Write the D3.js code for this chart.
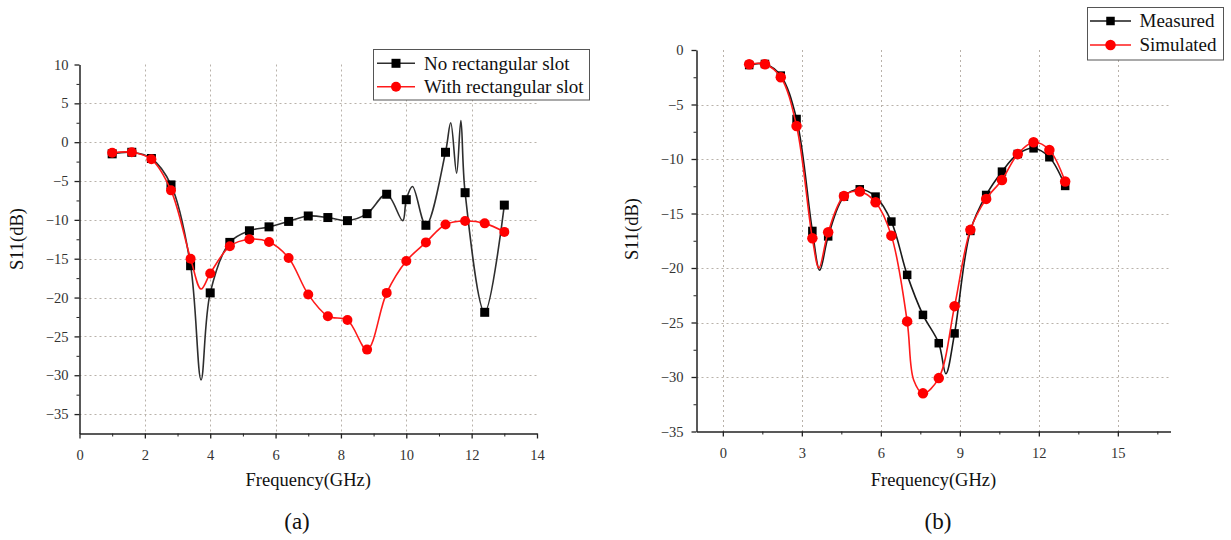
<!DOCTYPE html>
<html>
<head>
<meta charset="utf-8">
<script src="https://cdn.jsdelivr.net/npm/d3@7"></script>
<style>
  html, body { margin: 0; padding: 0; background: #fff; }
  svg { display: block; font-family: "Liberation Serif", "Times New Roman", serif; }
</style>
</head>
<body>
<svg id="chart" width="1231" height="540"></svg>
<script>
// Frequencies (GHz) at which the symbols are placed on every trace
const markerFreqs = [1.0, 1.6, 2.2, 2.8, 3.4, 4.0, 4.6, 5.2, 5.8, 6.4, 7.0,
                     7.6, 8.2, 8.8, 9.4, 10.0, 10.6, 11.2, 11.8, 12.4, 13.0];

// (a) S11 in dB without / with the rectangular slot
const noSlotDb   = [-1.5, -1.3, -2.1, -5.5, -15.9, -19.4, -12.9, -11.4, -10.9, -10.2, -9.5,
                    -9.7, -10.1, -9.2, -6.7, -7.4, -10.7, -1.3, -6.5, -21.9, -8.1];
const withSlotDb = [-1.35, -1.3, -2.2, -6.2, -15.0, -16.9, -13.4, -12.5, -12.85, -14.9, -19.6,
                    -22.4, -22.9, -26.7, -19.4, -15.3, -12.9, -10.6, -10.15, -10.45, -11.55];
// turning points of the traces that fall between symbols [GHz, dB]
const noSlotTurns   = [[3.72, -30.6], [9.89, -10.1], [10.19, -5.7], [11.36, 2.5], [11.54, -4.0], [11.67, 2.8]];
const withSlotTurns = [[3.72, -18.9]];

// (b) measured and simulated S11 in dB
const measuredDb  = [-1.38, -1.28, -2.35, -6.33, -16.6, -17.1, -13.45, -12.78, -13.45, -15.74, -20.63,
                     -24.3, -26.9, -26.0, -16.6, -13.3, -11.16, -9.54, -9.02, -9.84, -12.47];
const simulatedDb = [-1.3, -1.3, -2.5, -6.97, -17.27, -16.72, -13.39, -12.99, -13.97, -17.03, -24.9,
                     -31.5, -30.1, -23.5, -16.5, -13.66, -11.92, -9.54, -8.47, -9.17, -12.07];
const measuredTurns  = [[3.68, -20.2], [8.47, -29.7]];
const simulatedTurns = [[3.65, -20.0], [7.25, -30.3]];

// Tick values
const ticksAX = [0, 2, 4, 6, 8, 10, 12, 14];
const minorAX = [1, 3, 5, 7, 9, 11, 13];
const ticksAY = [10, 5, 0, -5, -10, -15, -20, -25, -30, -35];
const minorAY = [7.5, 2.5, -2.5, -7.5, -12.5, -17.5, -22.5, -27.5, -32.5];
const ticksBX = [0, 3, 6, 9, 12, 15];
const minorBX = [1.5, 4.5, 7.5, 10.5, 13.5, 16.5];
const ticksBY = [0, -5, -10, -15, -20, -25, -30, -35];
const minorBY = [-2.5, -7.5, -12.5, -17.5, -22.5, -27.5, -32.5];

const svg = d3.select("#chart");
const GRID = "#b9b2aa";
const TICK_TXT = "#333";
const minus = d3.format("");   // d3 renders negatives with a true minus sign

function tracePoints(vals, turns) {
  const pts = markerFreqs.map((f, i) => [f, vals[i]]).concat(turns);
  return pts.sort((a, b) => a[0] - b[0]);
}

function panel(o) {
  const x = d3.scaleLinear().domain(o.xDomain).range(o.xRange);
  const y = d3.scaleLinear().domain(o.yDomain).range(o.yRange);
  const g = svg.append("g");

  // dotted grid
  const grid = g.append("g").attr("stroke", GRID).attr("stroke-width", 1)
    .attr("stroke-dasharray", "2,3").attr("fill", "none");
  grid.selectAll(".h").data(o.gridY).join("line")
    .attr("x1", o.xRange[0]).attr("x2", o.xRange[1])
    .attr("y1", d => Math.round(y(d)) + 0.5).attr("y2", d => Math.round(y(d)) + 0.5);
  grid.selectAll(".v").data(o.gridX).join("line")
    .attr("x1", d => Math.round(x(d)) + 0.5).attr("x2", d => Math.round(x(d)) + 0.5)
    .attr("y1", o.yRange[1]).attr("y2", o.yRange[0]);

  // minor ticks
  g.append("g").attr("transform", `translate(0,${o.yRange[0]})`)
    .call(d3.axisBottom(x).tickValues(o.minorX).tickSize(3).tickFormat(""))
    .call(a => a.select(".domain").remove());
  g.append("g").attr("transform", `translate(${o.xRange[0]},0)`)
    .call(d3.axisLeft(y).tickValues(o.minorY).tickSize(3).tickFormat(""))
    .call(a => a.select(".domain").remove());

  // major axes
  const ax = g.append("g").attr("transform", `translate(0,${o.yRange[0]})`)
    .call(d3.axisBottom(x).tickValues(o.ticksX).tickSize(5).tickSizeOuter(0).tickPadding(11.5).tickFormat(minus));
  const ay = g.append("g").attr("transform", `translate(${o.xRange[0]},0)`)
    .call(d3.axisLeft(y).tickValues(o.ticksY).tickSize(5).tickSizeOuter(0).tickPadding(o.yPad).tickFormat(minus));
  [ax, ay].forEach(a => {
    a.select(".domain").attr("stroke", "#222").attr("stroke-width", 1.5);
    a.selectAll(".tick line").attr("stroke", "#222").attr("stroke-width", 1.3);
    a.selectAll(".tick text").attr("fill", TICK_TXT)
      .style("font-family", '"Liberation Serif", "Times New Roman", serif')
      .style("font-size", "14.5px");
  });
  g.selectAll(".tick line").attr("stroke", "#222");

  // axis titles
  g.append("text").attr("x", (o.xRange[0] + o.xRange[1]) / 2).attr("y", 485.5)
    .attr("text-anchor", "middle").attr("font-size", 18.5).attr("fill", "#111")
    .text("Frequency(GHz)");
  g.append("text").attr("transform", `translate(${o.yTitleX},${o.yTitleY}) rotate(-90)`)
    .attr("text-anchor", "middle").attr("font-size", 18.5).attr("fill", "#111")
    .text("S11(dB)");
  g.append("text").attr("x", o.tagX).attr("y", 528.5)
    .attr("text-anchor", "middle").attr("font-size", 23).attr("fill", "#111")
    .text(o.tag);

  // traces
  const line = d3.line().x(d => x(d[0])).y(d => y(d[1])).curve(d3.curveCatmullRom.alpha(0.5));
  o.series.forEach(s => {
    g.append("path").datum(tracePoints(s.values, s.turns))
      .attr("d", line).attr("fill", "none")
      .attr("stroke", s.line).attr("stroke-width", 1.6);
    const pts = markerFreqs.map((f, i) => [f, s.values[i]]);
    if (s.shape === "square") {
      g.append("g").selectAll("rect").data(pts).join("rect")
        .attr("x", d => x(d[0]) - s.size / 2).attr("y", d => y(d[1]) - s.size / 2)
        .attr("width", s.size).attr("height", s.size).attr("fill", s.fill);
    } else {
      g.append("g").selectAll("circle").data(pts).join("circle")
        .attr("cx", d => x(d[0])).attr("cy", d => y(d[1]))
        .attr("r", s.size / 2).attr("fill", s.fill);
    }
  });

  // legend
  const L = o.legend;
  g.append("rect").attr("x", L.x).attr("y", L.y).attr("width", L.w).attr("height", L.h)
    .attr("fill", "#fff").attr("stroke", "#555").attr("stroke-width", 1);
  o.series.forEach((s, i) => {
    const ly = L.rows[i];
    g.append("line").attr("x1", L.lx1).attr("x2", L.lx2).attr("y1", ly).attr("y2", ly)
      .attr("stroke", s.line).attr("stroke-width", 1.6);
    const mx = (L.lx1 + L.lx2) / 2;
    if (s.shape === "square") {
      g.append("rect").attr("x", mx - s.size / 2).attr("y", ly - s.size / 2)
        .attr("width", s.size).attr("height", s.size).attr("fill", s.fill);
    } else {
      g.append("circle").attr("cx", mx).attr("cy", ly).attr("r", s.size / 2).attr("fill", s.fill);
    }
    g.append("text").attr("x", L.tx).attr("y", ly + L.dy)
      .attr("font-size", 19).attr("fill", "#111").text(s.name);
  });
}

panel({
  xDomain: [0, 14], xRange: [79.5, 537],
  yDomain: [-37.5, 10], yRange: [433.5, 64.5],
  ticksX: ticksAX, minorX: minorAX, ticksY: ticksAY, minorY: minorAY,
  gridX: ticksAX.filter(v => v > 0 && v < 14), gridY: ticksAY.filter(v => v < 10),
  yPad: 6, yTitleX: 23, yTitleY: 239, tag: "(a)", tagX: 297,
  series: [
    { name: "No rectangular slot", values: noSlotDb, turns: noSlotTurns,
      line: "#2e2e2e", fill: "#000", shape: "square", size: 9 },
    { name: "With rectangular slot", values: withSlotDb, turns: withSlotTurns,
      line: "#ff1a1a", fill: "#ff0000", shape: "circle", size: 10 }
  ],
  legend: { x: 373.5, y: 49.5, w: 216, h: 50.5, rows: [63.3, 86.7],
            lx1: 377, lx2: 415, tx: 424, dy: 6.3 }
});

panel({
  xDomain: [-1, 17], xRange: [696.5, 1170.5],
  yDomain: [-35, 0], yRange: [431.5, 50],
  ticksX: ticksBX, minorX: minorBX, ticksY: ticksBY, minorY: minorBY,
  gridX: ticksBX, gridY: ticksBY.filter(v => v < 0 && v > -35),
  yPad: 8, yTitleX: 638, yTitleY: 229, tag: "(b)", tagX: 938,
  series: [
    { name: "Measured", values: measuredDb, turns: measuredTurns,
      line: "#1a1a1a", fill: "#000", shape: "square", size: 8.5 },
    { name: "Simulated", values: simulatedDb, turns: simulatedTurns,
      line: "#ff1a1a", fill: "#ff0000", shape: "circle", size: 10.5 }
  ],
  legend: { x: 1087.5, y: 7.5, w: 136, h: 52.5, rows: [21, 45],
            lx1: 1090, lx2: 1131, tx: 1139.5, dy: 6.3 }
});
</script>
</body>
</html>
